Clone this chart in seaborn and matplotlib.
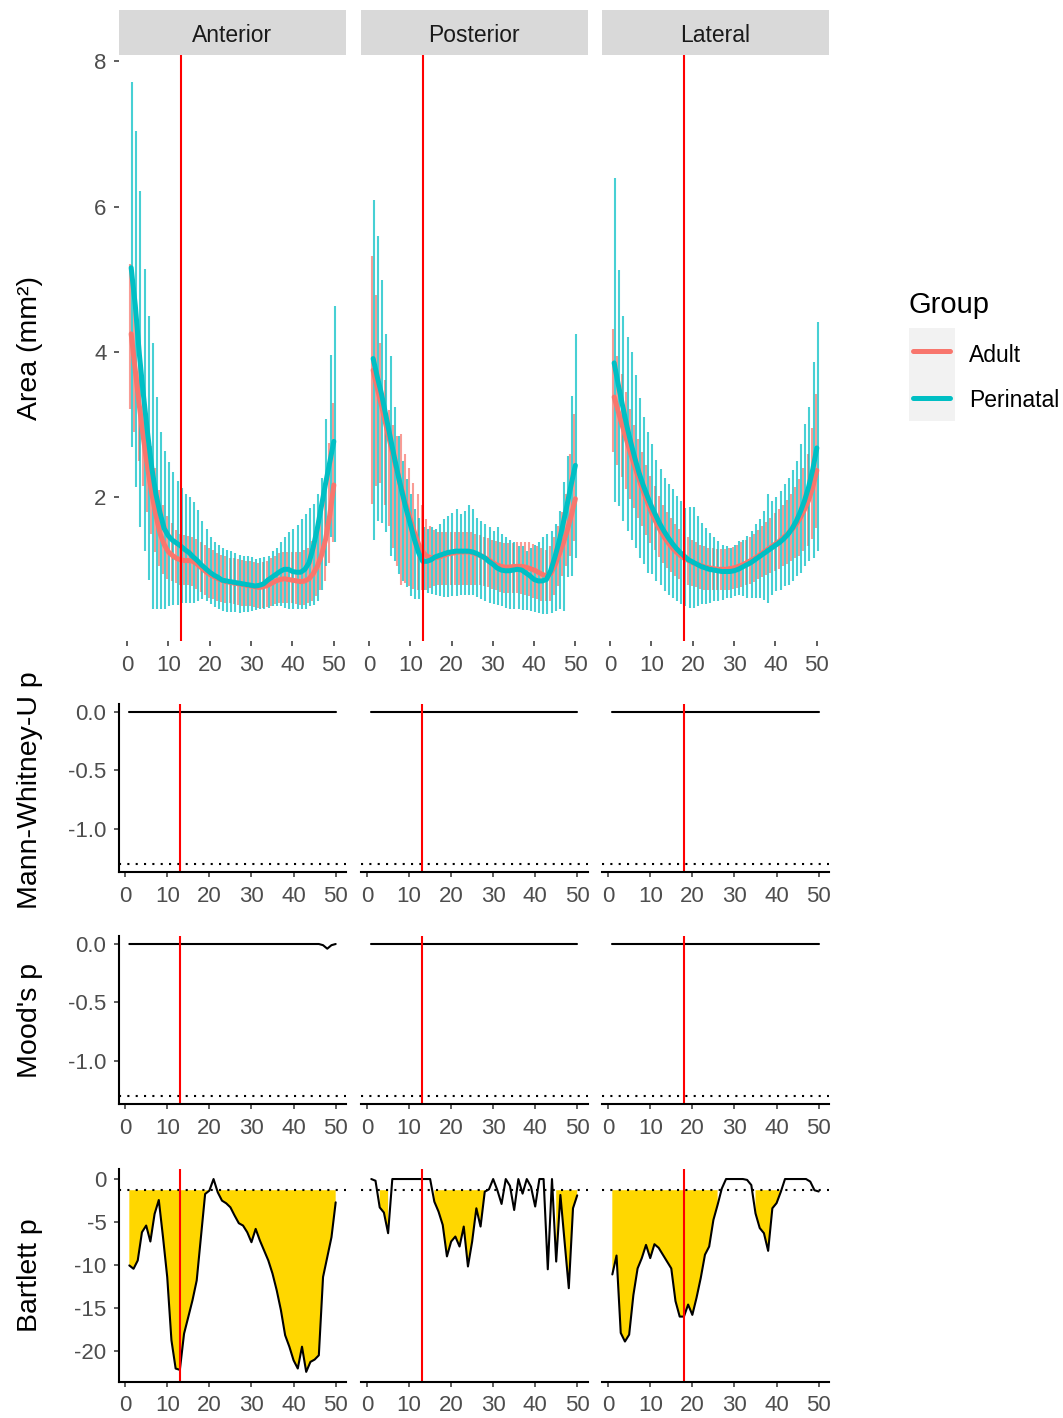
import numpy as np
import pandas as pd
import matplotlib
matplotlib.use("Agg")
import matplotlib.pyplot as plt
import seaborn as sns
from matplotlib.patches import Rectangle
from matplotlib.lines import Line2D

# ---------------- data ----------------
regions = ["Anterior", "Posterior", "Lateral"]
groups = ["Adult", "Perinatal"]
position = list(range(1, 51))
cut_points = [13, 13, 18]
threshold = -1.30103  # log10(0.05)

ant_adult_line = [4.25, 3.75, 3.25, 2.8, 2.4, 2.05, 1.75, 1.5, 1.35, 1.25, 1.2, 1.16, 1.14, 1.13, 1.13, 1.12, 1.08, 1.03, 0.98, 0.94,
                  0.91, 0.88, 0.86, 0.84, 0.83, 0.82, 0.81, 0.8, 0.79, 0.78, 0.77, 0.76, 0.77, 0.79, 0.82, 0.85, 0.87, 0.88, 0.87, 0.86,
                  0.85, 0.84, 0.85, 0.88, 0.95, 1.05, 1.2, 1.42, 1.75, 2.17]
ant_adult_hi = [5.21, 4.6, 4.0, 3.5, 3.1, 2.7, 2.4, 2.1, 1.9, 1.75, 1.65, 1.55, 1.5, 1.48, 1.47, 1.46, 1.43, 1.39, 1.34, 1.3,
                1.27, 1.24, 1.21, 1.19, 1.17, 1.16, 1.15, 1.14, 1.13, 1.12, 1.11, 1.1, 1.11, 1.13, 1.16, 1.2, 1.23, 1.25, 1.25, 1.25,
                1.25, 1.25, 1.27, 1.3, 1.4, 1.55, 1.8, 2.2, 2.75, 3.3]
ant_adult_lo = [3.21, 2.9, 2.5, 2.15, 1.8, 1.5, 1.25, 1.05, 0.95, 0.88, 0.85, 0.82, 0.8, 0.79, 0.79, 0.78, 0.74, 0.7, 0.66, 0.62,
                0.6, 0.58, 0.56, 0.55, 0.54, 0.53, 0.52, 0.51, 0.5, 0.5, 0.49, 0.48, 0.48, 0.49, 0.51, 0.53, 0.54, 0.55, 0.55, 0.54,
                0.53, 0.52, 0.52, 0.54, 0.58, 0.64, 0.72, 0.85, 1.1, 1.38]
ant_peri_line = [5.16, 4.64, 3.96, 3.39, 2.87, 2.4, 2.04, 1.78, 1.57, 1.47, 1.41, 1.37, 1.33, 1.28, 1.24, 1.18, 1.13, 1.07, 1.02, 0.97,
                 0.93, 0.9, 0.86, 0.85, 0.84, 0.83, 0.82, 0.81, 0.8, 0.79, 0.78, 0.79, 0.81, 0.86, 0.9, 0.94, 0.98, 1.01, 1.01, 0.98,
                 0.97, 0.97, 1.01, 1.1, 1.31, 1.57, 1.88, 2.19, 2.48, 2.77]
ant_peri_hi = [7.72, 7.04, 6.22, 5.14, 4.49, 4.13, 3.38, 2.9, 2.64, 2.48, 2.35, 2.22, 2.13, 2.05, 2.01, 1.94, 1.83, 1.67, 1.57, 1.45,
               1.39, 1.35, 1.31, 1.28, 1.26, 1.23, 1.21, 1.2, 1.19, 1.18, 1.15, 1.16, 1.18, 1.19, 1.26, 1.31, 1.39, 1.46, 1.53, 1.57,
               1.62, 1.7, 1.77, 1.85, 1.91, 2.04, 2.27, 3.08, 3.96, 4.63]
ant_peri_lo = [2.69, 2.14, 1.59, 1.26, 0.86, 0.47, 0.46, 0.46, 0.47, 0.5, 0.52, 0.52, 0.55, 0.55, 0.54, 0.55, 0.58, 0.6, 0.58, 0.53,
               0.49, 0.46, 0.44, 0.42, 0.42, 0.42, 0.41, 0.42, 0.42, 0.43, 0.45, 0.46, 0.47, 0.48, 0.5, 0.5, 0.5, 0.48, 0.46, 0.46,
               0.46, 0.47, 0.47, 0.5, 0.52, 0.57, 0.73, 1.05, 1.46, 1.39]

pos_adult_line = [3.75, 3.5, 3.27, 3.02, 2.78, 2.54, 2.31, 2.09, 1.89, 1.7, 1.52, 1.36, 1.25, 1.19, 1.17, 1.17, 1.18, 1.2, 1.22, 1.23,
                  1.24, 1.25, 1.25, 1.25, 1.24, 1.22, 1.2, 1.17, 1.14, 1.1, 1.07, 1.05, 1.04, 1.04, 1.05, 1.05, 1.05, 1.04, 1.02, 1.0,
                  0.97, 0.94, 0.92, 0.95, 1.06, 1.2, 1.36, 1.54, 1.75, 1.98]
pos_adult_hi = [5.32, 4.78, 4.12, 3.61, 3.2, 3.0, 2.85, 2.87, 2.6, 2.4, 2.2, 2.05, 1.9, 1.7, 1.6, 1.55, 1.52, 1.52, 1.52, 1.52,
                1.52, 1.52, 1.52, 1.52, 1.52, 1.5, 1.48, 1.46, 1.44, 1.42, 1.4, 1.38, 1.37, 1.37, 1.37, 1.38, 1.39, 1.39, 1.38, 1.36,
                1.33, 1.3, 1.28, 1.33, 1.45, 1.6, 1.8, 2.05, 2.6, 3.15]
pos_adult_lo = [1.91, 2.16, 2.2, 1.9, 1.6, 1.3, 1.05, 0.8, 0.82, 0.78, 0.74, 0.72, 0.72, 0.73, 0.75, 0.78, 0.8, 0.8, 0.8, 0.8,
                0.8, 0.8, 0.8, 0.8, 0.8, 0.8, 0.8, 0.78, 0.76, 0.74, 0.72, 0.7, 0.69, 0.68, 0.68, 0.68, 0.67, 0.66, 0.64, 0.62,
                0.6, 0.58, 0.57, 0.58, 0.65, 0.78, 0.92, 1.05, 1.2, 1.4]
pos_peri_line = [3.91, 3.66, 3.43, 3.15, 2.87, 2.59, 2.32, 2.07, 1.84, 1.63, 1.42, 1.24, 1.12, 1.12, 1.14, 1.18, 1.2, 1.22, 1.24, 1.25,
                 1.26, 1.26, 1.26, 1.26, 1.25, 1.23, 1.2, 1.17, 1.12, 1.08, 1.03, 1.0, 0.99, 0.99, 1.0, 1.01, 1.0, 0.96, 0.92, 0.87,
                 0.85, 0.85, 0.87, 0.99, 1.17, 1.38, 1.63, 1.9, 2.18, 2.44]
pos_peri_hi = [6.09, 5.59, 4.99, 4.25, 3.94, 3.25, 2.85, 2.5, 2.25, 2.05, 1.84, 1.72, 1.59, 1.56, 1.59, 1.56, 1.63, 1.7, 1.75, 1.79,
               1.84, 1.77, 1.81, 1.9, 1.84, 1.72, 1.68, 1.63, 1.59, 1.54, 1.59, 1.5, 1.45, 1.42, 1.38, 1.33, 1.33, 1.26, 1.31, 1.35,
               1.38, 1.45, 1.5, 1.54, 1.63, 1.81, 2.21, 2.57, 3.4, 4.25]
pos_peri_lo = [1.42, 1.67, 1.65, 1.52, 1.19, 1.12, 0.94, 0.85, 0.76, 0.64, 0.6, 0.6, 0.72, 0.69, 0.67, 0.65, 0.64, 0.63, 0.63, 0.64,
               0.64, 0.65, 0.66, 0.66, 0.65, 0.63, 0.6, 0.57, 0.55, 0.53, 0.52, 0.5, 0.48, 0.47, 0.47, 0.46, 0.45, 0.45, 0.44, 0.42,
               0.41, 0.4, 0.4, 0.41, 0.43, 0.46, 0.44, 0.9, 0.92, 1.17]

lat_adult_line = [3.38, 3.18, 2.98, 2.79, 2.6, 2.42, 2.25, 2.09, 1.94, 1.8, 1.67, 1.56, 1.46, 1.38, 1.31, 1.25, 1.2, 1.16, 1.13, 1.1,
                  1.08, 1.06, 1.04, 1.03, 1.02, 1.01, 1.01, 1.01, 1.02, 1.03, 1.05, 1.07, 1.1, 1.13, 1.16, 1.2, 1.24, 1.28, 1.32, 1.36,
                  1.4, 1.45, 1.5, 1.56, 1.63, 1.72, 1.83, 1.96, 2.14, 2.37]
lat_adult_hi = [4.31, 3.95, 3.7, 3.45, 3.22, 3.0, 2.8, 2.62, 2.45, 2.3, 2.15, 2.02, 1.9, 1.8, 1.71, 1.63, 1.56, 1.5, 1.45, 1.41,
                1.38, 1.35, 1.33, 1.31, 1.3, 1.29, 1.29, 1.29, 1.3, 1.32, 1.35, 1.38, 1.42, 1.46, 1.5, 1.55, 1.6, 1.66, 1.72, 1.78,
                1.84, 1.9, 1.97, 2.05, 2.14, 2.25, 2.4, 2.6, 2.95, 3.42]
lat_adult_lo = [2.62, 2.45, 2.28, 2.12, 1.98, 1.85, 1.72, 1.6, 1.48, 1.37, 1.27, 1.18, 1.1, 1.03, 0.97, 0.92, 0.87, 0.83, 0.8, 0.78,
                0.76, 0.74, 0.73, 0.72, 0.72, 0.72, 0.72, 0.72, 0.73, 0.74, 0.75, 0.77, 0.79, 0.81, 0.84, 0.87, 0.9, 0.93, 0.96, 0.99,
                1.02, 1.05, 1.08, 1.12, 1.16, 1.2, 1.26, 1.33, 1.43, 1.58]
lat_peri_line = [3.85, 3.55, 3.27, 3.0, 2.76, 2.54, 2.34, 2.17, 2.02, 1.88, 1.76, 1.64, 1.54, 1.45, 1.37, 1.3, 1.24, 1.19, 1.14, 1.11,
                 1.08, 1.05, 1.03, 1.01, 1.0, 0.99, 0.98, 0.98, 0.98, 0.99, 1.01, 1.04, 1.07, 1.1, 1.14, 1.18, 1.22, 1.26, 1.3, 1.34,
                 1.38, 1.43, 1.49, 1.57, 1.67, 1.8, 1.95, 2.14, 2.38, 2.68]
lat_peri_hi = [6.39, 5.13, 4.49, 4.21, 4.0, 3.68, 3.37, 3.11, 2.9, 2.74, 2.51, 2.39, 2.27, 2.18, 2.11, 2.02, 1.95, 1.86, 1.87, 1.87,
               1.74, 1.65, 1.58, 1.51, 1.45, 1.4, 1.35, 1.33, 1.31, 1.35, 1.4, 1.42, 1.47, 1.54, 1.63, 1.7, 1.81, 2.04, 1.95, 2.0,
               2.09, 2.18, 2.27, 2.37, 2.5, 2.73, 3.01, 3.24, 3.86, 4.41]
lat_peri_lo = [1.93, 1.88, 1.68, 1.54, 1.42, 1.31, 1.17, 1.08, 0.96, 0.94, 0.85, 0.8, 0.71, 0.66, 0.62, 0.57, 0.53, 0.5, 0.48, 0.48,
               0.5, 0.53, 0.53, 0.55, 0.57, 0.57, 0.59, 0.62, 0.62, 0.64, 0.66, 0.64, 0.62, 0.62, 0.62, 0.62, 0.59, 0.55, 0.66, 0.71,
               0.73, 0.78, 0.8, 0.85, 0.92, 0.96, 1.05, 1.12, 1.17, 1.26]

# log10 p-values of the tests
mwu_ant = [0.0, 0.0, 0.0, 0.0, 0.0, 0.0, 0.0, 0.0, 0.0, 0.0, 0.0, 0.0, 0.0, 0.0, 0.0, 0.0, 0.0, 0.0, 0.0, 0.0, 0.0, 0.0, 0.0, 0.0, 0.0,
           0.0, 0.0, 0.0, 0.0, 0.0, 0.0, 0.0, 0.0, 0.0, 0.0, 0.0, 0.0, 0.0, 0.0, 0.0, 0.0, 0.0, 0.0, 0.0, 0.0, 0.0, 0.0, 0.0, 0.0, 0.0]
mwu_pos = [0.0, 0.0, 0.0, 0.0, 0.0, 0.0, 0.0, 0.0, 0.0, 0.0, 0.0, 0.0, 0.0, 0.0, 0.0, 0.0, 0.0, 0.0, 0.0, 0.0, 0.0, 0.0, 0.0, 0.0, 0.0,
           0.0, 0.0, 0.0, 0.0, 0.0, 0.0, 0.0, 0.0, 0.0, 0.0, 0.0, 0.0, 0.0, 0.0, 0.0, 0.0, 0.0, 0.0, 0.0, 0.0, 0.0, 0.0, 0.0, 0.0, 0.0]
mwu_lat = [0.0, 0.0, 0.0, 0.0, 0.0, 0.0, 0.0, 0.0, 0.0, 0.0, 0.0, 0.0, 0.0, 0.0, 0.0, 0.0, 0.0, 0.0, 0.0, 0.0, 0.0, 0.0, 0.0, 0.0, 0.0,
           0.0, 0.0, 0.0, 0.0, 0.0, 0.0, 0.0, 0.0, 0.0, 0.0, 0.0, 0.0, 0.0, 0.0, 0.0, 0.0, 0.0, 0.0, 0.0, 0.0, 0.0, 0.0, 0.0, 0.0, 0.0]
mood_ant = [0.0, 0.0, 0.0, 0.0, 0.0, 0.0, 0.0, 0.0, 0.0, 0.0, 0.0, 0.0, 0.0, 0.0, 0.0, 0.0, 0.0, 0.0, 0.0, 0.0, 0.0, 0.0, 0.0, 0.0, 0.0,
            0.0, 0.0, 0.0, 0.0, 0.0, 0.0, 0.0, 0.0, 0.0, 0.0, 0.0, 0.0, 0.0, 0.0, 0.0, 0.0, 0.0, 0.0, 0.0, 0.0, 0.0, -0.01, -0.04, -0.01, 0.0]
mood_pos = [0.0, 0.0, 0.0, 0.0, 0.0, 0.0, 0.0, 0.0, 0.0, 0.0, 0.0, 0.0, 0.0, 0.0, 0.0, 0.0, 0.0, 0.0, 0.0, 0.0, 0.0, 0.0, 0.0, 0.0, 0.0,
            0.0, 0.0, 0.0, 0.0, 0.0, 0.0, 0.0, 0.0, 0.0, 0.0, 0.0, 0.0, 0.0, 0.0, 0.0, 0.0, 0.0, 0.0, 0.0, 0.0, 0.0, 0.0, 0.0, 0.0, 0.0]
mood_lat = [0.0, 0.0, 0.0, 0.0, 0.0, 0.0, 0.0, 0.0, 0.0, 0.0, 0.0, 0.0, 0.0, 0.0, 0.0, 0.0, 0.0, 0.0, 0.0, 0.0, 0.0, 0.0, 0.0, 0.0, 0.0,
            0.0, 0.0, 0.0, 0.0, 0.0, 0.0, 0.0, 0.0, 0.0, 0.0, 0.0, 0.0, 0.0, 0.0, 0.0, 0.0, 0.0, 0.0, 0.0, 0.0, 0.0, 0.0, 0.0, 0.0, 0.0]
bart_ant = [-10.05, -10.44, -9.47, -6.19, -5.41, -7.27, -4.06, -2.44, -6.77, -11.4, -18.75, -22.04, -22.2, -17.98, -16.05, -14.1,
            -11.8, -6.77, -1.74, -1.35, 0.0, -1.55, -2.51, -2.82, -3.29, -4.25, -5.14, -5.41, -6.19, -7.35, -5.8, -7.15, -8.31,
            -9.47, -11.0, -12.95, -15.27, -18.17, -19.5, -21.08, -22.04, -19.5, -22.43, -21.27, -21.0, -20.5, -11.4, -9.09, -6.77, -2.71]
bart_pos = [0.0, -0.2, -3.3, -3.9, -6.3, 0.0, 0.0, 0.0, 0.0, 0.0, 0.0, 0.0, 0.0, 0.0, 0.0, -2.63, -3.79, -5.34, -9.0, -7.27,
            -6.69, -7.85, -5.53, -10.17, -7.27, -3.4, -5.53, -1.47, -1.2, 0.0, -1.3, -2.9, 0.0, -0.8, -3.6, 0.0, -1.7, 0.0,
            -0.9, -3.2, 0.0, 0.0, -10.5, 0.0, -9.6, -1.85, -7.3, -12.7, -3.4, -1.9]
bart_lat = [-11.1, -8.9, -17.9, -18.9, -18.1, -13.5, -10.4, -9.2, -7.66, -9.2, -7.58, -8.0, -8.8, -9.6, -10.4, -14.2, -16.0,
            -16.0, -14.6, -15.8, -13.8, -11.5, -8.8, -7.85, -4.76, -3.0, -1.1, 0.0, 0.0, 0.0, 0.0, 0.0, -0.1, -0.7, -4.0, -5.7,
            -6.3, -8.35, -3.4, -2.8, -1.5, 0.0, 0.0, 0.0, 0.0, 0.0, 0.0, -0.3, -1.3, -1.45]

# ---------------- tables ----------------
area_src = {
    ("Anterior", "Adult"): (ant_adult_line, ant_adult_lo, ant_adult_hi),
    ("Anterior", "Perinatal"): (ant_peri_line, ant_peri_lo, ant_peri_hi),
    ("Posterior", "Adult"): (pos_adult_line, pos_adult_lo, pos_adult_hi),
    ("Posterior", "Perinatal"): (pos_peri_line, pos_peri_lo, pos_peri_hi),
    ("Lateral", "Adult"): (lat_adult_line, lat_adult_lo, lat_adult_hi),
    ("Lateral", "Perinatal"): (lat_peri_line, lat_peri_lo, lat_peri_hi),
}
rows = []
for (reg, grp), (ln, lo, hi) in area_src.items():
    for p, m, l, h in zip(position, ln, lo, hi):
        rows.append(dict(region=reg, group=grp, position=p, mean=m, lo=l, hi=h))
area_df = pd.DataFrame(rows)

tests = {
    "Mann-Whitney-U p": [mwu_ant, mwu_pos, mwu_lat],
    "Mood's p": [mood_ant, mood_pos, mood_lat],
    "Bartlett p": [bart_ant, bart_pos, bart_lat],
}

# ---------------- style ----------------
sns.set_theme(style="white")
plt.rcParams['font.family'] = ['Liberation Sans', 'DejaVu Sans']
plt.rcParams['axes.unicode_minus'] = False

palette = {"Adult": "#F8766D", "Perinatal": "#00BFC4"}
W, H, DPI = 1063, 1418, 100
fig = plt.figure(figsize=(W / DPI, H / DPI), dpi=DPI)


def px_box(l, t, r, b):
    return [l / W, 1 - b / H, (r - l) / W, (b - t) / H]


cols_px = [(119, 346), (361, 587.5), (602, 829)]
TICK_FS = 16
TICK_KW = dict(length=3.6, width=1.1, color="#333333", labelcolor="#4D4D4D",
               labelsize=TICK_FS)
XPAD, YPAD = 6.4, 5.4


def style_ticks(ax, show_left):
    ax.tick_params(axis="x", which="both", bottom=True, pad=XPAD, **TICK_KW)
    ax.tick_params(axis="y", which="both", left=show_left, pad=YPAD, **TICK_KW)


# ---- top row: area ----
for ci, reg in enumerate(regions):
    l, r = cols_px[ci]
    ax = fig.add_axes(px_box(l, 55, r, 641))
    d = area_df[area_df.region == reg]
    for grp, off in zip(groups, [-0.225, 0.225]):
        s = d[d.group == grp]
        ax.vlines(s.position + off, s.lo, s.hi, color=palette[grp], alpha=0.72, lw=1.5)
    sns.lineplot(data=d, x="position", y="mean", hue="group", hue_order=groups,
                 palette=palette, lw=3.6, legend=False, ax=ax, errorbar=None)
    ax.axvline(cut_points[ci], color="red", lw=1.5)
    ax.set_xlim(-1.94, 52.94)
    ax.set_ylim(0.0235, 8.087)
    ax.set_xticks([0, 10, 20, 30, 40, 50])
    ax.set_yticks([2, 4, 6, 8])
    ax.set_xlabel("")
    ax.set_ylabel("")
    for sp in ax.spines.values():
        sp.set_visible(False)
    style_ticks(ax, ci == 0)
    if ci != 0:
        ax.set_yticklabels([])
    ax.set_facecolor("white")
    # strip
    sax = fig.add_axes(px_box(l, 10, r, 55))
    sax.set_facecolor("#D9D9D9")
    for sp in sax.spines.values():
        sp.set_visible(False)
    sax.set_xticks([])
    sax.set_yticks([])
    sax.text(0.5, 0.5, reg, ha="center", va="center_baseline", fontsize=16.5,
             color="#1A1A1A", transform=sax.transAxes)

# ---- lower rows: tests ----
row_px = {
    "Mann-Whitney-U p": (704.4, 871.8, (-1.366, 0.065), [0.0, -0.5, -1.0], ["0.0", "-0.5", "-1.0"]),
    "Mood's p": (936.4, 1103.8, (-1.366, 0.065), [0.0, -0.5, -1.0], ["0.0", "-0.5", "-1.0"]),
    "Bartlett p": (1169.4, 1381.5, (-23.55, 1.12), [0, -5, -10, -15, -20], ["0", "-5", "-10", "-15", "-20"]),
}
for name, series in tests.items():
    t, b, ylim, yt, ytl = row_px[name]
    for ci, reg in enumerate(regions):
        l, r = cols_px[ci]
        ax = fig.add_axes(px_box(l, t, r, b))
        yv = np.array(series[ci], dtype=float)
        xv = np.array(position, dtype=float)
        # ribbon only across consecutive below-threshold positions (NA breaks it)
        ax.fill_between(xv, yv, threshold, where=yv < threshold, interpolate=False,
                        color="#FFD700", lw=0)
        dd = pd.DataFrame({"position": position, "logp": series[ci]})
        sns.lineplot(data=dd, x="position", y="logp", color="black", lw=1.5, ax=ax,
                     errorbar=None)
        ax.axhline(threshold, color="black", lw=1.5, ls=(0, (1, 3)))
        ax.axvline(cut_points[ci], color="red", lw=1.5)
        ax.set_xlim(-1.45, 52.45)
        ax.set_ylim(*ylim)
        ax.set_xticks([0, 10, 20, 30, 40, 50])
        ax.set_yticks(yt)
        ax.set_xlabel("")
        ax.set_ylabel("")
        for k in ["top", "right"]:
            ax.spines[k].set_visible(False)
        ax.spines["bottom"].set_color("black")
        ax.spines["bottom"].set_linewidth(1.5)
        if ci == 0:
            ax.spines["left"].set_color("black")
            ax.spines["left"].set_linewidth(1.5)
            ax.set_yticklabels(ytl)
        else:
            ax.spines["left"].set_visible(False)
            ax.set_yticklabels([])
        style_ticks(ax, ci == 0)
        ax.set_facecolor("white")

# ---- y-axis titles ----
ytitles = [("Area (mm²)", 348), ("Mann-Whitney-U p", 790), ("Mood's p", 1020), ("Bartlett p", 1275)]
for txt, yc in ytitles:
    fig.text(30 / W, 1 - yc / H, txt, rotation=90, ha="center", va="center",
             fontsize=20.5, color="black")

# ---- legend ----
fig.text(909 / W, 1 - 313 / H, "Group", ha="left", va="baseline", fontsize=21, color="black")
fig.patches.append(Rectangle((909 / W, 1 - 421 / H), 46 / W, 93 / H,
                             transform=fig.transFigure, facecolor="#F2F2F2", edgecolor="none"))
for grp, ykey, ybase in [("Adult", 351, 362), ("Perinatal", 397.5, 407)]:
    fig.lines.append(Line2D([913 / W, 950 / W], [1 - ykey / H, 1 - ykey / H],
                            transform=fig.transFigure, color=palette[grp], lw=3.6))
    fig.text(969 / W, 1 - ybase / H, grp, ha="left", va="baseline", fontsize=16.5, color="black")

fig.savefig("out.png", dpi=DPI, facecolor="white")
